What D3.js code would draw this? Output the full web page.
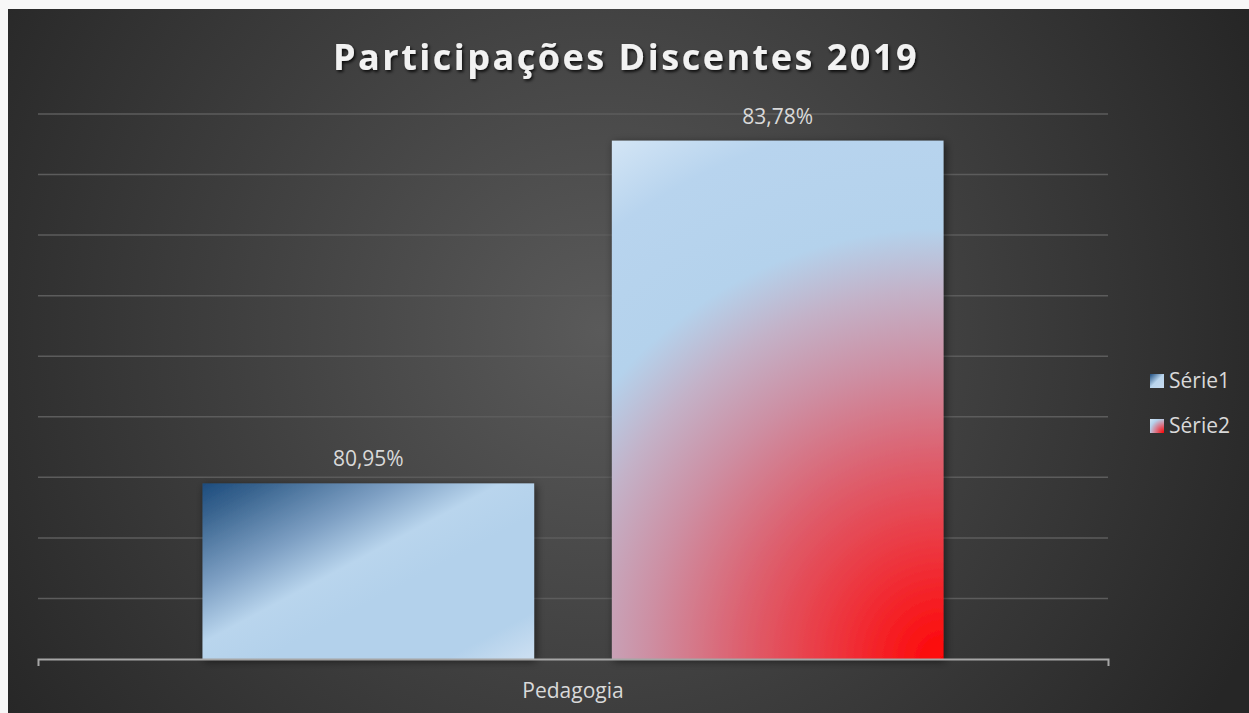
<!DOCTYPE html>
<html>
<head>
<meta charset="utf-8">
<script src="https://cdnjs.cloudflare.com/ajax/libs/d3/7.8.5/d3.min.js"></script>
<style>
  body { margin: 0; background: #f7f7f7; }
  svg { display: block; font-family: "Open Sans", sans-serif; }
</style>
</head>
<body>
<script>
// chart data
var titleText = "Participações Discentes 2019";
var categories = ["Pedagogia"];
var seriesNames = ["Série1", "Série2"];
var seriesValues = [80.95, 83.78];
var yDomain = [79.5, 84];
var gridValues = [80, 80.5, 81, 81.5, 82, 82.5, 83, 83.5, 84];

var W = 1249, H = 713;
var plot = {left: 38, right: 1108, top: 114, bottom: 659};

var ptBR = d3.formatLocale({decimal: ",", thousands: ".", grouping: [3], currency: ["R$", ""]});
var fmt = function(v) { return ptBR.format(".2f")(v) + "%"; };

var svg = d3.select("body").append("svg")
  .attr("width", W)
  .attr("height", H);

var defs = svg.append("defs");

// background gradient
var bg = defs.append("radialGradient")
  .attr("id", "bg")
  .attr("gradientUnits", "userSpaceOnUse")
  .attr("cx", 600).attr("cy", 330).attr("r", 720);
bg.append("stop").attr("offset", 0).attr("stop-color", "#5a5a5a");
bg.append("stop").attr("offset", 0.55).attr("stop-color", "#3d3d3d");
bg.append("stop").attr("offset", 1).attr("stop-color", "#262626");

var shadow = defs.append("filter").attr("id", "shadow")
  .attr("x", "-10%").attr("y", "-10%").attr("width", "130%").attr("height", "130%");
shadow.append("feDropShadow")
  .attr("dx", 2).attr("dy", 2).attr("stdDeviation", 4)
  .attr("flood-color", "#000").attr("flood-opacity", 0.55);

var tshadow = defs.append("filter").attr("id", "tshadow")
  .attr("x", "-5%").attr("y", "-30%").attr("width", "110%").attr("height", "160%");
tshadow.append("feDropShadow")
  .attr("dx", 1.5).attr("dy", 2).attr("stdDeviation", 1.5)
  .attr("flood-color", "#000").attr("flood-opacity", 0.8);

svg.append("rect")
  .attr("x", 8).attr("y", 9)
  .attr("width", W - 8).attr("height", H - 9)
  .attr("fill", "url(#bg)");

// scales
var x0 = d3.scaleBand().domain(categories).range([plot.left, plot.right])
  .paddingInner(0).paddingOuter(0.222);
var x1 = d3.scaleBand().domain(seriesNames).range([0, x0.bandwidth()])
  .paddingInner(0.19).paddingOuter(0);
var y = d3.scaleLinear().domain(yDomain).range([plot.bottom, plot.top]);

// gridlines
svg.append("g")
  .selectAll("line")
  .data(gridValues)
  .enter()
  .append("line")
  .attr("x1", plot.left).attr("x2", plot.right)
  .attr("y1", function(d) { return y(d); })
  .attr("y2", function(d) { return y(d); })
  .attr("stroke", "#5c5c5c")
  .attr("stroke-width", 1.5);

// bar gradients, built from each bar's box (local coords of the group)
seriesNames.forEach(function(name, i) {
  var bx = x1(name),
      by = y(seriesValues[i]),
      bw = x1.bandwidth(),
      bh = y(yDomain[0]) - by;
  if (i === 0) {
    // diagonal sheen running from bottom-left to top-right
    var g1 = defs.append("linearGradient")
      .attr("id", "grad0")
      .attr("gradientUnits", "userSpaceOnUse")
      .attr("x1", bx).attr("y1", by)
      .attr("x2", bx + 144).attr("y2", by + 270);
    g1.append("stop").attr("offset", 0).attr("stop-color", "#1d4c7e");
    g1.append("stop").attr("offset", 0.1).attr("stop-color", "#3a6590");
    g1.append("stop").attr("offset", 0.3).attr("stop-color", "#7d9fc3");
    g1.append("stop").attr("offset", 0.46).attr("stop-color", "#b9d5ed");
    g1.append("stop").attr("offset", 0.6).attr("stop-color", "#b3d1eb");
    g1.append("stop").attr("offset", 0.88).attr("stop-color", "#b3d1eb");
    g1.append("stop").attr("offset", 1).attr("stop-color", "#cadef1");
  } else {
    var g2 = defs.append("radialGradient")
      .attr("id", "grad1")
      .attr("gradientUnits", "userSpaceOnUse")
      .attr("cx", bx + bw).attr("cy", by + bh)
      .attr("r", Math.sqrt(bw * bw + bh * bh));
    g2.append("stop").attr("offset", 0).attr("stop-color", "#ff0505");
    g2.append("stop").attr("offset", 0.16).attr("stop-color", "#ef3038");
    g2.append("stop").attr("offset", 0.32).attr("stop-color", "#de5d6b");
    g2.append("stop").attr("offset", 0.48).attr("stop-color", "#cd8fa3");
    g2.append("stop").attr("offset", 0.6).attr("stop-color", "#c3b2c8");
    g2.append("stop").attr("offset", 0.7).attr("stop-color", "#b4d2ec");
    g2.append("stop").attr("offset", 0.88).attr("stop-color", "#b8d4ee");
    g2.append("stop").attr("offset", 1).attr("stop-color", "#d3e5f5");
  }
});

// bars
var groups = svg.append("g")
  .selectAll("g")
  .data(categories)
  .enter()
  .append("g")
  .attr("transform", function(d) { return "translate(" + x0(d) + ",0)"; });

groups.selectAll("rect")
  .data(seriesNames.map(function(n, i) { return {name: n, value: seriesValues[i], i: i}; }))
  .enter()
  .append("rect")
  .attr("x", function(d) { return x1(d.name); })
  .attr("y", function(d) { return y(d.value); })
  .attr("width", x1.bandwidth())
  .attr("height", function(d) { return y(yDomain[0]) - y(d.value); })
  .attr("fill", function(d) { return "url(#grad" + d.i + ")"; })
  .attr("filter", "url(#shadow)");

// value labels
groups.selectAll("text.val")
  .data(seriesNames.map(function(n, i) { return {name: n, value: seriesValues[i]}; }))
  .enter()
  .append("text")
  .attr("class", "val")
  .attr("x", function(d) { return x1(d.name) + x1.bandwidth() / 2; })
  .attr("y", function(d) { return y(d.value) - 17; })
  .attr("text-anchor", "middle")
  .attr("fill", "#d9d9d9")
  .style("font-size", "21px")
  .text(function(d) { return fmt(d.value); });

// x axis
var xAxis = d3.axisBottom(x0).tickSize(0).tickSizeOuter(7).tickPadding(24);
var ax = svg.append("g")
  .attr("transform", "translate(0," + plot.bottom + ")")
  .call(xAxis);
ax.select(".domain").attr("stroke", "#a6a6a6").attr("stroke-width", 2);
ax.selectAll("text")
  .attr("fill", "#d9d9d9")
  .style("font-size", "21px")
  .style("font-family", "Open Sans, sans-serif");

// title
svg.append("text")
  .attr("x", 626)
  .attr("y", 70)
  .attr("text-anchor", "middle")
  .attr("fill", "#f2f2f2")
  .attr("filter", "url(#tshadow)")
  .style("font-size", "36px")
  .style("font-weight", "bold")
  .style("letter-spacing", "2.5px")
  .text(titleText);

// legend
var legend = svg.append("g")
  .selectAll("g")
  .data(seriesNames)
  .enter()
  .append("g")
  .attr("transform", function(d, i) { return "translate(1150," + (374 + i * 45) + ")"; });

var lg0 = defs.append("linearGradient").attr("id", "lg0")
  .attr("x1", 0).attr("y1", 0).attr("x2", 1).attr("y2", 1);
lg0.append("stop").attr("offset", 0).attr("stop-color", "#1d4c7e");
lg0.append("stop").attr("offset", 0.5).attr("stop-color", "#b9d5ed");
lg0.append("stop").attr("offset", 1).attr("stop-color", "#c8dcf0");
var lg1 = defs.append("radialGradient").attr("id", "lg1")
  .attr("cx", 1).attr("cy", 1).attr("r", 1.4);
lg1.append("stop").attr("offset", 0).attr("stop-color", "#ff0000");
lg1.append("stop").attr("offset", 0.45).attr("stop-color", "#d77d90");
lg1.append("stop").attr("offset", 0.75).attr("stop-color", "#b4d2ec");
lg1.append("stop").attr("offset", 1).attr("stop-color", "#d3e5f5");

legend.append("rect")
  .attr("width", 14).attr("height", 14)
  .attr("fill", function(d, i) { return "url(#lg" + i + ")"; });

legend.append("text")
  .attr("x", 19)
  .attr("y", 14)
  .attr("fill", "#d9d9d9")
  .style("font-size", "21px")
  .text(function(d) { return d; });
</script>
</body>
</html>
